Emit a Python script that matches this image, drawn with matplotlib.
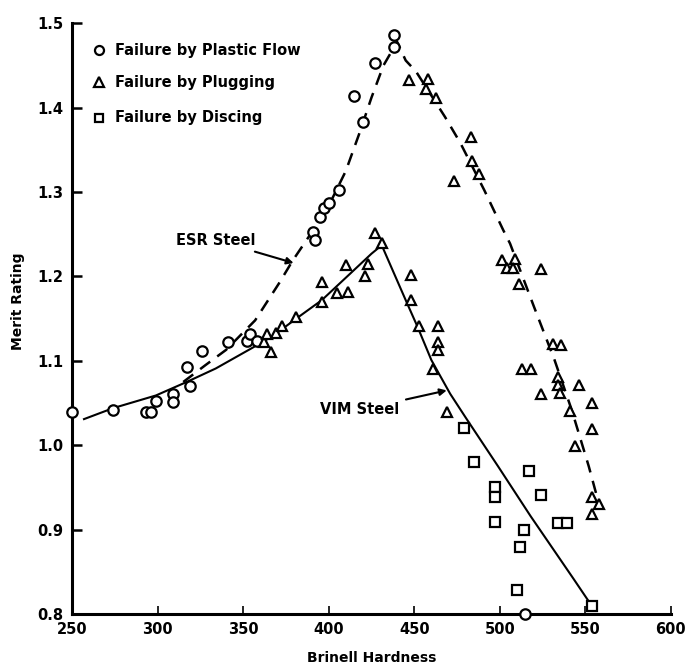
import matplotlib
matplotlib.use("Agg")
import matplotlib.pyplot as plt

plt.rcParams['font.family'] = ['DejaVu Sans']
plt.rcParams['font.weight'] = 'bold'

# failure by plastic flow (circles)
flow_x = [250, 274, 293, 296, 299, 309, 309, 317, 319, 326, 341, 352, 354, 358,
          391, 392, 395, 397, 400, 406, 415, 420, 427, 438, 438, 515]
flow_y = [1.040, 1.042, 1.040, 1.040, 1.053, 1.061, 1.051, 1.093, 1.070, 1.112,
          1.122, 1.124, 1.132, 1.124, 1.253, 1.243, 1.271, 1.281, 1.287, 1.303,
          1.414, 1.383, 1.453, 1.472, 1.486, 0.800]

# failure by plugging (triangles)
plug_x = [362, 364, 366, 369, 373, 381, 396, 396, 405, 411, 410, 423, 421, 427, 431,
          448, 448, 453, 464, 464, 464, 461, 469,
          447, 458, 457, 463, 483, 484, 488, 473,
          501, 509, 504, 508, 524, 511,
          531, 536, 513, 518, 524, 534, 534, 535, 546, 541, 554, 554, 544, 554, 558, 554]
plug_y = [1.122, 1.132, 1.111, 1.133, 1.141, 1.152, 1.193, 1.170, 1.181, 1.182, 1.214,
          1.215, 1.200, 1.252, 1.240,
          1.202, 1.172, 1.141, 1.141, 1.122, 1.113, 1.090, 1.040,
          1.433, 1.434, 1.422, 1.412, 1.365, 1.337, 1.321, 1.313,
          1.220, 1.221, 1.210, 1.210, 1.209, 1.191,
          1.120, 1.119, 1.090, 1.090, 1.061, 1.081, 1.071, 1.062, 1.071, 1.041,
          1.050, 1.019, 0.999, 0.939, 0.930, 0.919]

# failure by discing (squares)
disc_x = [479, 485, 497, 497, 497, 517, 524, 514, 512, 510, 534, 539, 554]
disc_y = [1.020, 0.980, 0.951, 0.939, 0.909, 0.970, 0.941, 0.900, 0.879, 0.829,
          0.908, 0.908, 0.810]

# fitted trends
esr_x = [315, 328, 340, 357, 371, 379, 392, 402, 410, 418, 425, 432, 440,
         445, 451, 468, 477, 491, 502, 506, 520, 532, 542, 552, 558]
esr_y = [1.075, 1.095, 1.113, 1.148, 1.192, 1.219, 1.258, 1.292, 1.325, 1.370,
         1.412, 1.450, 1.478, 1.456, 1.443, 1.389, 1.358, 1.302, 1.255, 1.239,
         1.164, 1.101, 1.042, 0.975, 0.930]

vim_x = [257, 274, 299, 317, 334, 355, 367, 381, 396, 415, 425, 431,
         445, 452, 460, 471, 480, 499, 518, 543, 552]
vim_y = [1.031, 1.044, 1.059, 1.075, 1.091, 1.115, 1.129, 1.150, 1.172, 1.208,
         1.227, 1.237, 1.172, 1.140, 1.101, 1.061, 1.033, 0.975, 0.916, 0.842, 0.815]

x_ticks = [250, 300, 350, 400, 450, 500, 550, 600]
y_ticks = [0.8, 0.9, 1.0, 1.1, 1.2, 1.3, 1.4, 1.5]

fig = plt.figure(figsize=(6.86, 6.66), dpi=100)
ax = fig.add_axes([0.105, 0.078, 0.873, 0.887])

ax.plot(esr_x, esr_y, color='black', lw=1.8, dashes=(5, 3.5))
ax.plot(vim_x, vim_y, color='black', lw=1.5)

mk = dict(linestyle='none', mfc='white', mec='black', mew=1.6, clip_on=False, zorder=3)
ax.plot(flow_x, flow_y, marker='o', ms=7.5, **mk)
ax.plot(plug_x, plug_y, marker='^', ms=7.5, **mk)
ax.plot(disc_x, disc_y, marker='s', ms=6.5, **mk)

# legend drawn by hand
legend_rows = [('o', 'Failure by Plastic Flow', 1.468),
               ('^', 'Failure by Plugging', 1.430),
               ('s', 'Failure by Discing', 1.388)]
for m, label, yy in legend_rows:
    ax.plot([266], [yy], marker=m, ms=6.5 if m != 's' else 5.5, **mk)
    ax.text(275, yy, label, fontsize=10.5, va='center', ha='left', fontweight='bold')

arrow = dict(arrowstyle='-|>', color='black', lw=1.5, mutation_scale=10,
             shrinkA=3, shrinkB=0)
ax.annotate('ESR Steel', xy=(379.5, 1.216), xytext=(334, 1.243),
            fontsize=10.5, ha='center', va='center', fontweight='bold',
            arrowprops=arrow)
ax.annotate('VIM Steel', xy=(469, 1.065), xytext=(418, 1.042),
            fontsize=10.5, ha='center', va='center', fontweight='bold',
            arrowprops=arrow)

ax.set_xlim(250, 600)
ax.set_ylim(0.8, 1.5)
ax.set_xticks(x_ticks)
ax.set_yticks(y_ticks)
ax.set_yticklabels(['%.1f' % v for v in y_ticks])
ax.tick_params(direction='in', length=7, width=1.8, labelsize=10.5, pad=6)
ax.tick_params(axis='x', length=6, width=1.2)

for side in ['top', 'right']:
    ax.spines[side].set_visible(False)
for side in ['left', 'bottom']:
    ax.spines[side].set_linewidth(2.2)

ax.set_xlabel('Brinell Hardness', fontsize=10, fontweight='bold')
ax.set_ylabel('Merit Rating', fontsize=10, fontweight='bold')
ax.xaxis.set_label_coords(0.5, -0.062)
ax.yaxis.set_label_coords(-0.078, 0.53)

fig.savefig('out.png', dpi=100)
